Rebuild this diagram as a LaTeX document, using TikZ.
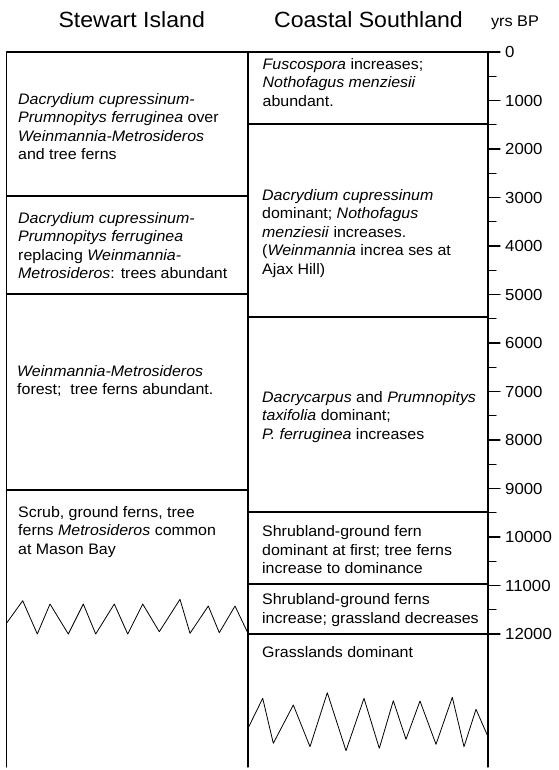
\documentclass[tikz,border=0pt]{standalone}
\usepackage{fontspec}
\setmainfont[FakeStretch=1.05]{Liberation Sans}
\begin{document}
\begin{tikzpicture}[x=1pt,y=-1pt,line join=round,line cap=round,
	box/.style={line width=1.3pt},
	zz/.style={line width=0.8pt},
	txt/.style={anchor=west,align=left,inner sep=0pt,font=\fontsize{15.2}{18.5}\selectfont},
	hd/.style={inner sep=0pt,font=\fontsize{22}{24}\selectfont},
	yr/.style={anchor=west,inner sep=0pt,font=\fontsize{16}{18}\selectfont}]
	\useasboundingbox (0,0) rectangle (558,770);
	% column corners
	\coordinate (A) at (6.5,52);
	\coordinate (B) at (248,52);
	\coordinate (C) at (488,52);
	\coordinate (A') at (6.5,767);
	\coordinate (B') at (248,767);
	\coordinate (C') at (488,767);
	\draw[box] (A)--(C) (A)--(A') (B)--(B') (C)--(C');
	% Stewart Island zones
	\draw[box] (6.5,196)--(248,196) (6.5,294)--(248,294) (6.5,490)--(248,490);
	% Coastal Southland zones
	\draw[box] (248,124)--(488,124) (248,317)--(488,317) (248,512)--(488,512) (248,584)--(488,584) (248,634)--(488,634);
	% time axis
	\foreach \k in {0,...,12}{
		\draw[box] (488,{52+48.5*\k}) -- ++(12,0);
		\pgfmathtruncatemacro{\yrs}{1000*\k}
		\node[yr] (t\k) at (505,{52+48.5*\k}) {\yrs};}
	\foreach \k in {0,...,11}{\draw[box] (488,{52+48.5*(\k+0.5)}) -- ++(8,0);}
	% headings
	\node[hd] (si) at (131.7,19.3) {Stewart Island};
	\node[hd] (cs) at (368.5,19.5) {Coastal Southland};
	\node[inner sep=0pt,font=\fontsize{15.5}{17}\selectfont] (bp) at (515,23) {yrs BP};
	% zone texts
	\node[txt] (s1) at (18,126.7) {\textit{Dacrydium cupressinum-}\\\textit{Prumnopitys ferruginea} over\\\textit{Weinmannia-Metrosideros}\\and tree ferns};
	\node[txt] (s2) at (18,245.5) {\textit{Dacrydium cupressinum-}\\\textit{Prumnopitys ferruginea}\\replacing \textit{Weinmannia-}\\\textit{Metrosideros}: trees abundant};
	\node[txt] (s3) at (17,381) {\textit{Weinmannia-Metrosideros}\\forest;\ \ tree ferns abundant.};
	\node[txt] (s4) at (18,531.7) {Scrub, ground ferns, tree\\ferns \textit{Metrosideros} common\\at Mason Bay};
	\node[txt] (c1) at (262.5,82.5) {\textit{Fuscospora} increases;\\\textit{Nothofagus menziesii}\\abundant.};
	\node[txt] (c2) at (262,233.3) {\textit{Dacrydium cupressinum}\\dominant; \textit{Nothofagus}\\\textit{menziesii} increases.\\(\textit{Weinmannia} increa ses at\\Ajax Hill)};
	\node[txt] (c3) at (262,417) {\textit{Dacrycarpus} and \textit{Prumnopitys}\\\textit{taxifolia} dominant;\\\textit{P. ferruginea} increases};
	\node[txt] (c4) at (262,550) {Shrubland-ground fern\\dominant at first; tree ferns\\increase to dominance};
	\node[txt] (c5) at (262,610) {Shrubland-ground ferns\\increase; grassland decreases};
	\node[txt] (c6) at (262,652.5) {Grasslands dominant};
	% broken records
	\draw[zz] (6.7,623)--(22.7,600.7)--(37.3,634)--(50,604)--(68.3,634)--(83.3,604)--(95.7,634)--(114.3,604)--(127.7,634)--(142.7,604)--(159.3,631.7)--(180,599.3)--(190,633.3)--(208.3,606)--(219.3,632.7)--(235,606)--(248,633.3);
	\draw[zz] (248,728.3)--(262.7,698.3)--(273.3,743.3)--(293.3,705)--(310,746.7)--(327.3,692.7)--(346,750.7)--(364,698.3)--(379.3,748.3)--(393.3,700.7)--(406,739.3)--(420,701)--(436,744.3)--(452.3,697.3)--(464,746.7)--(476,709.3)--(488,736.7);
\end{tikzpicture}
\end{document}
